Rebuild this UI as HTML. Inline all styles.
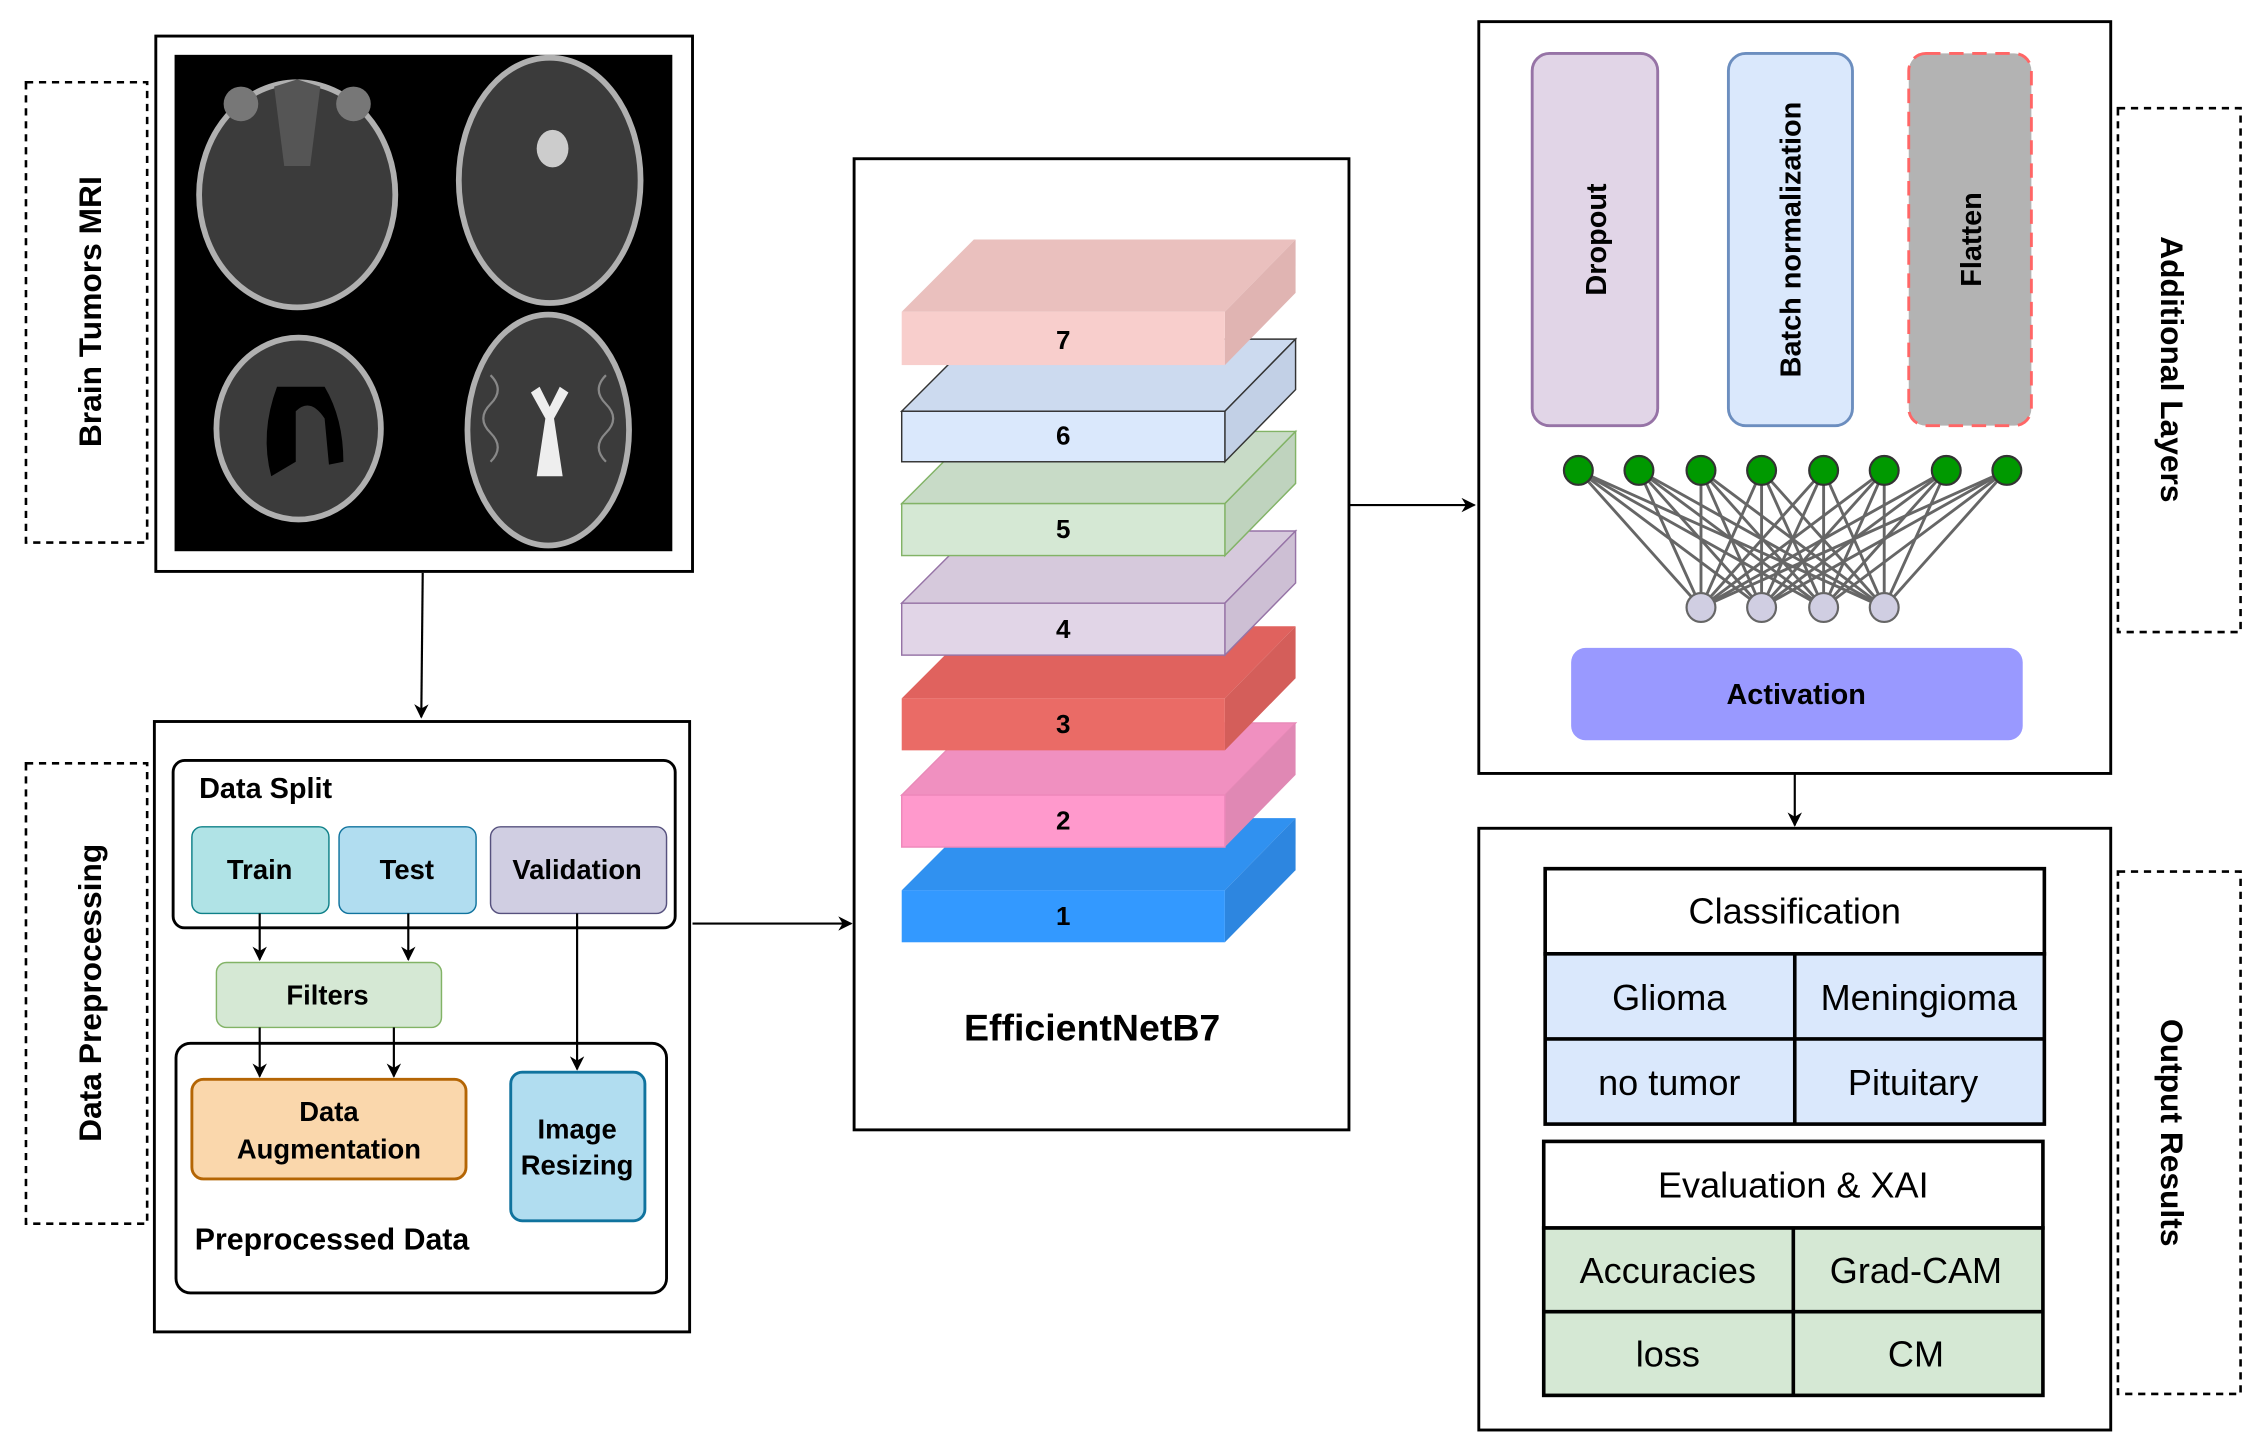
<!DOCTYPE html>
<html><head><meta charset="utf-8"><style>html,body{margin:0;padding:0;background:#fff}svg{display:block}text{font-family:"Liberation Sans",sans-serif}</style></head>
<body>
<svg width="2255" height="1443" viewBox="0 0 1563 1000" preserveAspectRatio="none" xmlns="http://www.w3.org/2000/svg">
<defs><marker id="a" markerWidth="10" markerHeight="10" refX="9" refY="5" orient="auto" markerUnits="userSpaceOnUse"><path d="M0,0 L10,5 L0,10 L3,5 z" fill="#000"/></marker></defs>
<g font-weight="bold" font-size="22">
<rect x="18" y="57" width="84" height="319" fill="none" stroke="#000" stroke-width="1.8" stroke-dasharray="5,4"/>
<text transform="translate(70,216) rotate(-90)" text-anchor="middle">Brain Tumors MRI</text>
<rect x="18" y="529" width="84" height="319" fill="none" stroke="#000" stroke-width="1.8" stroke-dasharray="5,4"/>
<text transform="translate(70,688) rotate(-90)" text-anchor="middle">Data Preprocessing</text>
<rect x="1468" y="75" width="85" height="363" fill="none" stroke="#000" stroke-width="1.8" stroke-dasharray="5,4"/>
<text transform="translate(1498,256) rotate(90)" text-anchor="middle">Additional Layers</text>
<rect x="1468" y="604" width="85" height="362" fill="none" stroke="#000" stroke-width="1.8" stroke-dasharray="5,4"/>
<text transform="translate(1498,785) rotate(90)" text-anchor="middle">Output Results</text>
</g>
<!-- MRI -->
<rect x="108" y="25" width="372" height="371" fill="#fff" stroke="#000" stroke-width="2"/>
<rect x="121" y="38" width="345" height="344" fill="#000"/>
<g stroke="#b0b0b0" stroke-width="4" fill="#3b3b3b">
<ellipse cx="206" cy="135" rx="68" ry="78"/>
<ellipse cx="381" cy="125" rx="63" ry="85"/>
<ellipse cx="207" cy="297" rx="57" ry="63"/>
<ellipse cx="380" cy="298" rx="56" ry="80"/>
</g>
<path d="M190,60 L206,55 L222,60 L215,115 L197,115 z" fill="#555"/>
<circle cx="167" cy="72" r="12" fill="#777"/><circle cx="245" cy="72" r="12" fill="#777"/>
<ellipse cx="383" cy="103" rx="11" ry="13" fill="#ccc"/>
<path d="M192,268 Q180,300 188,330 L205,320 L205,285 Q215,275 225,290 L228,322 L238,320 Q238,290 225,268 z" fill="#000"/>
<path d="M368,272 L378,290 L372,330 L390,330 L384,290 L394,272 L388,268 L381,282 L374,268 z" fill="#eee"/>
<g stroke="#888" stroke-width="1.5" fill="none"><path d="M340,260 q10,10 0,20 q-10,10 0,20 q10,10 0,20"/><path d="M420,260 q-10,10 0,20 q10,10 0,20 q-10,10 0,20"/></g>
<line x1="293" y1="397" x2="292" y2="497" stroke="#000" stroke-width="1.5" marker-end="url(#a)"/>
<!-- preprocessing -->
<rect x="107" y="500" width="371" height="423" fill="#fff" stroke="#000" stroke-width="2"/>
<rect x="120" y="527" width="348" height="116" rx="8" fill="#fff" stroke="#000" stroke-width="2"/>
<text x="138" y="553" font-size="20" font-weight="bold">Data Split</text>
<g font-size="19" text-anchor="middle" font-weight="bold">
<rect x="133" y="573" width="95" height="60" rx="7" fill="#b0e3e6" stroke="#0e8088"/><text x="180" y="609">Train</text>
<rect x="235" y="573" width="95" height="60" rx="7" fill="#b1ddf0" stroke="#10739e"/><text x="282" y="609">Test</text>
<rect x="340" y="573" width="122" height="60" rx="7" fill="#d0cee2" stroke="#56517e"/><text x="400" y="609">Validation</text>
<rect x="150" y="667" width="156" height="45" rx="7" fill="#d5e8d4" stroke="#82b366"/><text x="227" y="696">Filters</text>
</g>
<rect x="122" y="723" width="340" height="173" rx="10" fill="#fff" stroke="#000" stroke-width="2"/>
<g stroke="#000" stroke-width="1.5" marker-end="url(#a)">
<line x1="180" y1="633" x2="180" y2="665"/><line x1="283" y1="633" x2="283" y2="665"/>
<line x1="180" y1="712" x2="180" y2="746"/><line x1="273" y1="712" x2="273" y2="746"/>
<line x1="400" y1="633" x2="400" y2="741"/>
<line x1="480" y1="640" x2="590" y2="640"/>
<line x1="935" y1="350" x2="1022" y2="350"/>
<line x1="1244" y1="536" x2="1244" y2="572"/>
</g>
<g font-size="19" text-anchor="middle" font-weight="bold">
<rect x="133" y="748" width="190" height="69" rx="8" fill="#fad7ac" stroke="#b46504" stroke-width="2"/><text x="228" y="777">Data</text><text x="228" y="803">Augmentation</text>
<rect x="354" y="743" width="93" height="103" rx="8" fill="#b1ddf0" stroke="#10739e" stroke-width="2"/><text x="400" y="789">Image</text><text x="400" y="814">Resizing</text>
</g>
<text x="135" y="866" font-size="21" font-weight="bold">Preprocessed Data</text>
<!-- EfficientNet -->
<rect x="592" y="110" width="343" height="673" fill="#fff" stroke="#000" stroke-width="2"/>
<g font-size="18" font-weight="bold" text-anchor="middle" stroke-width="1">
<g><polygon points="625,617 675,567 898,567 849,617" fill="#3091f0"/><polygon points="849,617 898,567 898,603 849,653" fill="#2d86e0"/><rect x="625" y="617" width="224" height="36" fill="#3399ff"/><text x="737" y="641">1</text></g>
<g><polygon points="625,551 675,501 898,501 849,551" fill="#f090c0" stroke="#e88ab8"/><polygon points="849,551 898,501 898,537 849,587" fill="#e088b4"/><rect x="625" y="551" width="224" height="36" fill="#ff99cc" stroke="#ee88bb"/><text x="737" y="575">2</text></g>
<g><polygon points="625,484 675,434 898,434 849,484" fill="#e0625e"/><polygon points="849,484 898,434 898,470 849,520" fill="#d45e5a"/><rect x="625" y="484" width="224" height="36" fill="#ea6b66"/><text x="737" y="508">3</text></g>
<g><polygon points="625,418 675,368 898,368 849,418" fill="#d6c9dc" stroke="#9673a6"/><polygon points="849,418 898,368 898,404 849,454" fill="#cdbfd4" stroke="#9673a6"/><rect x="625" y="418" width="224" height="36" fill="#e1d5e7" stroke="#9673a6"/><text x="737" y="442">4</text></g>
<g><polygon points="625,349 675,299 898,299 849,349" fill="#c8dbc7" stroke="#82b366"/><polygon points="849,349 898,299 898,335 849,385" fill="#bfd3be" stroke="#82b366"/><rect x="625" y="349" width="224" height="36" fill="#d5e8d4" stroke="#82b366"/><text x="737" y="373">5</text></g>
<g><polygon points="625,285 675,235 898,235 849,285" fill="#ccdaef" stroke="#333"/><polygon points="849,285 898,235 898,270 849,320" fill="#c2d0e6" stroke="#333"/><rect x="625" y="285" width="224" height="35" fill="#dae8fc" stroke="#333"/><text x="737" y="308">6</text></g>
<g><polygon points="625,216 675,166 898,166 849,216" fill="#eac0be"/><polygon points="849,216 898,166 898,203 849,253" fill="#e0b4b2"/><rect x="625" y="216" width="224" height="37" fill="#f8cecc"/><text x="737" y="242">7</text></g>
</g>
<text x="757" y="721" font-size="26" font-weight="bold" text-anchor="middle">EfficientNetB7</text>
<!-- Additional -->
<rect x="1025" y="15" width="438" height="521" fill="#fff" stroke="#000" stroke-width="2"/>
<rect x="1062" y="37" width="87" height="258" rx="12" fill="#e1d5e7" stroke="#9673a6" stroke-width="2"/>
<rect x="1198" y="37" width="86" height="258" rx="12" fill="#dae8fc" stroke="#6c8ebf" stroke-width="2"/>
<rect x="1323" y="37" width="85" height="258" rx="12" fill="#b3b3b3" stroke="#ff6666" stroke-width="2" stroke-dasharray="10,6"/>
<g font-size="20" font-weight="bold" text-anchor="middle">
<text transform="translate(1113,166) rotate(-90)">Dropout</text>
<text transform="translate(1248,166) rotate(-90)">Batch normalization</text>
<text transform="translate(1373,166) rotate(-90)">Flatten</text>
</g>
<g stroke="#666" stroke-width="2">
<line x1="1094" y1="326" x2="1179" y2="421"/><line x1="1094" y1="326" x2="1221" y2="421"/><line x1="1094" y1="326" x2="1264" y2="421"/><line x1="1094" y1="326" x2="1306" y2="421"/>
<line x1="1136" y1="326" x2="1179" y2="421"/><line x1="1136" y1="326" x2="1221" y2="421"/><line x1="1136" y1="326" x2="1264" y2="421"/><line x1="1136" y1="326" x2="1306" y2="421"/>
<line x1="1179" y1="326" x2="1179" y2="421"/><line x1="1179" y1="326" x2="1221" y2="421"/><line x1="1179" y1="326" x2="1264" y2="421"/><line x1="1179" y1="326" x2="1306" y2="421"/>
<line x1="1221" y1="326" x2="1179" y2="421"/><line x1="1221" y1="326" x2="1221" y2="421"/><line x1="1221" y1="326" x2="1264" y2="421"/><line x1="1221" y1="326" x2="1306" y2="421"/>
<line x1="1264" y1="326" x2="1179" y2="421"/><line x1="1264" y1="326" x2="1221" y2="421"/><line x1="1264" y1="326" x2="1264" y2="421"/><line x1="1264" y1="326" x2="1306" y2="421"/>
<line x1="1306" y1="326" x2="1179" y2="421"/><line x1="1306" y1="326" x2="1221" y2="421"/><line x1="1306" y1="326" x2="1264" y2="421"/><line x1="1306" y1="326" x2="1306" y2="421"/>
<line x1="1349" y1="326" x2="1179" y2="421"/><line x1="1349" y1="326" x2="1221" y2="421"/><line x1="1349" y1="326" x2="1264" y2="421"/><line x1="1349" y1="326" x2="1306" y2="421"/>
<line x1="1391" y1="326" x2="1179" y2="421"/><line x1="1391" y1="326" x2="1221" y2="421"/><line x1="1391" y1="326" x2="1264" y2="421"/><line x1="1391" y1="326" x2="1306" y2="421"/>
</g>
<g fill="#009900" stroke="#333" stroke-width="1.5">
<circle cx="1094" cy="326" r="10"/><circle cx="1136" cy="326" r="10"/><circle cx="1179" cy="326" r="10"/><circle cx="1221" cy="326" r="10"/><circle cx="1264" cy="326" r="10"/><circle cx="1306" cy="326" r="10"/><circle cx="1349" cy="326" r="10"/><circle cx="1391" cy="326" r="10"/>
</g>
<g fill="#d0cee2" stroke="#666" stroke-width="1.5">
<circle cx="1179" cy="421" r="10"/><circle cx="1221" cy="421" r="10"/><circle cx="1264" cy="421" r="10"/><circle cx="1306" cy="421" r="10"/>
</g>
<rect x="1089" y="449" width="313" height="64" rx="10" fill="#9999ff"/>
<text x="1245" y="488" font-size="20" font-weight="bold" text-anchor="middle">Activation</text>
<!-- Output -->
<rect x="1025" y="574" width="438" height="417" fill="#fff" stroke="#000" stroke-width="2"/>
<g stroke="#000" stroke-width="2.5">
<rect x="1071" y="602" width="346" height="59" fill="#fff"/>
<rect x="1071" y="661" width="346" height="118" fill="#dae8fc"/>
<line x1="1071" y1="720" x2="1417" y2="720"/><line x1="1244" y1="661" x2="1244" y2="779"/>
<rect x="1070" y="791" width="346" height="60" fill="#fff"/>
<rect x="1070" y="851" width="346" height="116" fill="#d5e8d4"/>
<line x1="1070" y1="909" x2="1416" y2="909"/><line x1="1243" y1="851" x2="1243" y2="967"/>
</g>
<g font-size="25" text-anchor="middle">
<text x="1244" y="640">Classification</text>
<text x="1157" y="700">Glioma</text><text x="1330" y="700">Meningioma</text>
<text x="1157" y="759">no tumor</text><text x="1326" y="759">Pituitary</text>
<text x="1243" y="830">Evaluation &amp; XAI</text>
<text x="1156" y="889">Accuracies</text><text x="1328" y="889">Grad-CAM</text>
<text x="1156" y="947">loss</text><text x="1328" y="947">CM</text>
</g>
</svg>
</body></html>
